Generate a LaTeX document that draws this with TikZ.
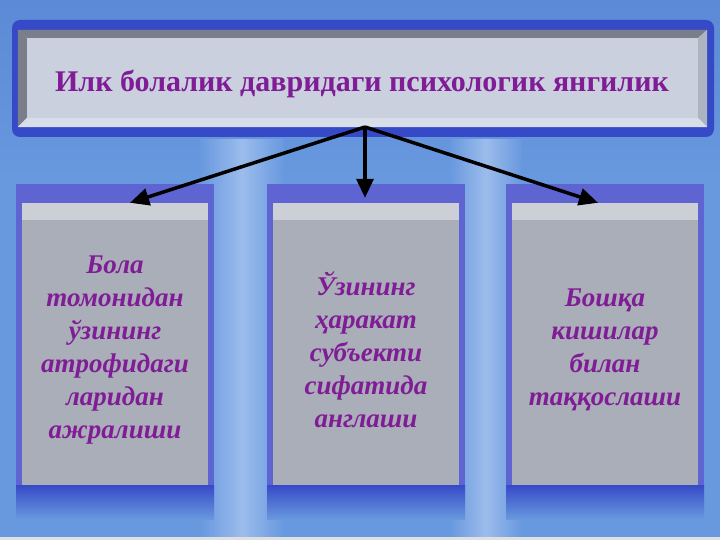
\documentclass[tikz,border=0pt]{standalone}
\usepackage{fontspec}
\setmainfont{Liberation Serif}
\usetikzlibrary{arrows.meta}
\definecolor{bgblue}{RGB}{104,152,222}
\definecolor{bgtop}{RGB}{92,138,214}
\definecolor{bglight}{RGB}{156,188,236}
\definecolor{frameblue}{RGB}{54,74,200}
\definecolor{frametop}{RGB}{94,100,210}
\definecolor{cardgray}{RGB}{170,174,184}
\definecolor{cardtop}{RGB}{204,208,214}
\definecolor{titlefill}{RGB}{202,208,222}
\definecolor{bevdark}{RGB}{122,126,138}
\definecolor{bevside}{RGB}{172,180,192}
\definecolor{bevlight}{RGB}{216,222,232}
\definecolor{inkpurple}{RGB}{128,28,150}
\tikzset{
        card/.style={fill=cardgray, minimum width=186pt, minimum height=282pt, inner sep=0pt},
        cardtext/.style={align=center, text=inkpurple, inner sep=0pt, font=\fontsize{27}{33}\selectfont\bfseries\itshape},
        headbox/.style={fill=titlefill, minimum width=689pt, minimum height=97pt, inner sep=0pt},
        headtext/.style={text=inkpurple, inner sep=0pt, anchor=base, font=\fontsize{30}{36}\selectfont\bfseries},
        link/.style={line width=3.5pt, -{Triangle[length=19pt,width=17pt]}}
          }

\begin{document}
\begin{tikzpicture}[x=1pt,y=-1pt]
            \useasboundingbox (0,0) rectangle (720,540);
            % background
            \fill[bgblue] (0,0) rectangle (720,540);
            \shade[top color=bgtop, bottom color=bgblue] (0,0) rectangle (720,180);
            \shade[left color=bgblue, right color=bgblue, middle color=bglight] (200,140) rectangle (284,540);
            \shade[left color=bgblue, right color=bgblue, middle color=bglight] (450,140) rectangle (522,540);
            \fill[black!12] (0,537) rectangle (720,540);
            % frames
            \fill[frameblue, rounded corners=8pt] (12,20) rectangle (714,137);
            \foreach \x in {16,267,506} {
              \fill[frametop] (\x,184) rectangle ++(198,306);
              \shade[top color=frameblue, bottom color=bgblue] (\x,485) rectangle ++(198,34);
            }
            % heading
            \node[headbox] (head) at (362.5,78.5) {};
            \fill[bevdark] (head.north west) -- (head.north east) -- ++(-9,8) -- ([shift={(9,8)}]head.north west) -- cycle;
            \fill[bevdark] (head.north west) -- ([shift={(9,8)}]head.north west) -- ([shift={(9,-9)}]head.south west) -- (head.south west) -- cycle;
            \fill[bevside] (head.north east) -- ([shift={(-9,8)}]head.north east) -- ([shift={(-9,-9)}]head.south east) -- (head.south east) -- cycle;
            \fill[bevlight] (head.south west) -- ([shift={(9,-9)}]head.south west) -- ([shift={(-9,-9)}]head.south east) -- (head.south east) -- cycle;
            \node[headtext] (headlbl) at (362,92) {Илк болалик давридаги психологик янгилик};
            % cards
            \node[card] (bola) at (115,344) {};
            \node[card] (uzi) at (366,344) {};
            \node[card] (boshqa) at (605,344) {};
            \foreach \c in {bola,uzi,boshqa}
              \fill[cardtop] (\c.north west) rectangle ([yshift=-17pt]\c.north east);
            \node[cardtext] (bolalbl) at ([yshift=-6pt]bola.center) {Бола\\томонидан\\ўзининг\\атрофидаги\\ларидан\\ажралиши};
            \node[cardtext] (uzilbl) at ([yshift=-6pt]uzi.center) {Ўзининг\\ҳаракат\\субъекти\\сифатида\\англаши};
            \node[cardtext] (boshqalbl) at ([yshift=-6pt]boshqa.center) {Бошқа\\кишилар\\билан\\таққослаши};
            % arrows
            \coordinate (hub) at (365,127);
            \draw[link] (hub) -- ([xshift=15pt]bola.north);
            \draw[link] (hub) -- ([xshift=-1pt,yshift=5pt]uzi.north);
            \draw[link] (hub) -- ([xshift=-7pt]boshqa.north);
          \end{tikzpicture}
\end{document}
